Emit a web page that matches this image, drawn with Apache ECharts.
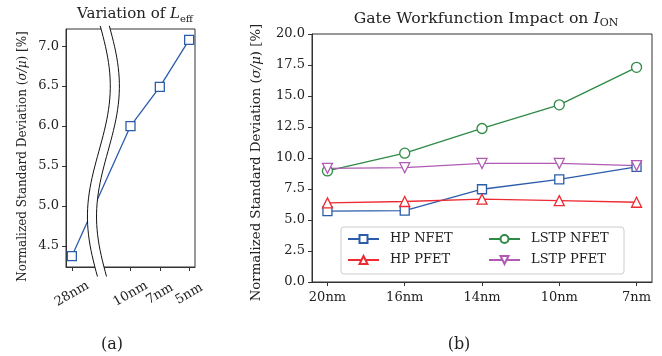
<!DOCTYPE html>
<html>
<head>
<meta charset="utf-8">
<script src="https://cdn.jsdelivr.net/npm/echarts@6/dist/echarts.min.js"></script>
<style>
  html, body { margin: 0; padding: 0; background: #fff; }
  #chart { width: 662px; height: 356px; }
</style>
</head>
<body>
<div id="chart"></div>
<script>
// (a) variation of Leff
var leffNodes = ['28nm', '10nm', '7nm', '5nm'];
var leffPos = [0, 2, 3, 4];            // slot 1 is left empty for the axis break
var leffValues = [4.37, 6.0, 6.49, 7.08];
var leffTicks = [4.5, 5.0, 5.5, 6.0, 6.5, 7.0];

// (b) gate workfunction impact on ION
var nodes = ['20nm', '16nm', '14nm', '10nm', '7nm'];
var hpNfet = [5.72, 5.75, 7.48, 8.27, 9.29];
var hpPfet = [6.38, 6.49, 6.68, 6.56, 6.43];
var lstpNfet = [8.96, 10.39, 12.38, 14.29, 17.31];
var lstpPfet = [9.17, 9.22, 9.56, 9.56, 9.39];

var FONT = 'DejaVu Serif';
var INK = '#222';
var SPINE = '#333';

// break marks, in data units of panel (a)
var brk = { top: 7.255, bottom: 4.115, mid: 0.921, amp: 0.39, peak: 6.50, half: 1.633, width: 0.31 };

function renderBreak(params, api) {
    var n = 48, left = [], right = [];
    for (var k = 0; k <= n; k++) {
        var yv = brk.top + (brk.bottom - brk.top) * k / n;
        var xv = brk.mid + brk.amp * Math.cos(Math.PI * (brk.peak - yv) / brk.half);
        left.push(api.coord([xv, yv]));
        right.push(api.coord([xv + brk.width, yv]));
    }
    return {
        type: 'group',
        children: [
            { type: 'polygon', shape: { points: left.concat(right.slice().reverse()) }, style: { fill: '#fff' } },
            { type: 'polyline', shape: { points: left }, style: { stroke: '#111', lineWidth: 1, fill: null } },
            { type: 'polyline', shape: { points: right }, style: { stroke: '#111', lineWidth: 1, fill: null } }
        ]
    };
}

function pairs(arr) {
    return arr.map(function (v, i) { return [i, v]; });
}

function lineSeries(name, values, color, symbol, size, rotate) {
    return {
        name: name,
        type: 'line',
        xAxisIndex: 1,
        yAxisIndex: 1,
        data: pairs(values),
        symbol: symbol,
        symbolSize: size,
        symbolRotate: rotate || 0,
        showAllSymbol: true,
        lineStyle: { color: color, width: 1.3 },
        itemStyle: { color: '#fff', borderColor: color, borderWidth: 1.3 },
        emphasis: { disabled: true },
        z: 3
    };
}

function subRich(size) {
    return {
        i: { fontFamily: FONT, fontStyle: 'italic', fontSize: size, color: INK, lineHeight: 20 },
        s: { fontFamily: FONT, fontSize: Math.round(size * 0.68), color: INK, lineHeight: 10, verticalAlign: 'bottom' }
    };
}
var nameRich = {
    i: { fontFamily: FONT, fontStyle: 'italic' }
};

var myChart = echarts.init(document.getElementById('chart'), null, { renderer: 'canvas' });

option = {
    animation: false,
    backgroundColor: '#fff',
    title: [
        {
            text: 'Variation of {i|L}{s|eff}',
            left: 130, top: -1, textAlign: 'center',
            textStyle: { fontFamily: FONT, fontSize: 15, fontWeight: 'normal', color: INK, lineHeight: 20, rich: subRich(15) }
        },
        {
            text: 'Gate Workfunction Impact on {i|I}{s|ON}',
            left: 481, top: 4, textAlign: 'center',
            textStyle: { fontFamily: FONT, fontSize: 15.7, fontWeight: 'normal', color: INK, lineHeight: 20, rich: subRich(15.7) }
        },
        {
            text: '(a)', left: 107, top: 332, textAlign: 'center',
            textStyle: { fontFamily: FONT, fontSize: 16, fontWeight: 'normal', color: INK }
        },
        {
            text: '(b)', left: 454, top: 332, textAlign: 'center',
            textStyle: { fontFamily: FONT, fontSize: 16, fontWeight: 'normal', color: INK }
        }
    ],
    grid: [
        { left: 66, top: 29, width: 129, height: 238, show: true, borderColor: SPINE, borderWidth: 1 },
        { left: 312, top: 34, width: 340, height: 248, show: true, borderColor: SPINE, borderWidth: 1 }
    ],
    xAxis: [
        {
            gridIndex: 0, type: 'value', min: -0.2, max: 4.2,
            axisLine: { onZero: false, lineStyle: { color: SPINE } },
            axisTick: { length: 4, customValues: leffPos, lineStyle: { color: SPINE } },
            axisLabel: {
                customValues: leffPos,
                formatter: function (v) { return leffNodes[leffPos.indexOf(v)]; },
                rotate: 30, align: 'center', verticalAlign: 'middle', margin: 27,
                fontFamily: FONT, fontSize: 13, color: INK
            },
            splitLine: { show: false }
        },
        {
            gridIndex: 1, type: 'value', min: -0.2, max: 4.2,
            axisLine: { onZero: false, lineStyle: { color: SPINE } },
            axisTick: { length: 4, customValues: [0, 1, 2, 3, 4], lineStyle: { color: SPINE } },
            axisLabel: {
                customValues: [0, 1, 2, 3, 4],
                formatter: function (v) { return nodes[v]; },
                margin: 9, fontFamily: FONT, fontSize: 13, color: INK
            },
            splitLine: { show: false }
        }
    ],
    yAxis: [
        {
            gridIndex: 0, type: 'value', min: 4.2345, max: 7.2155,
            name: 'Normalized Standard Deviation ({i|σ/μ}) [%]',
            nameLocation: 'middle', nameGap: 37, nameRotate: 90,
            nameTextStyle: { fontFamily: FONT, fontSize: 12, color: INK, padding: [0, 17, 0, 0], rich: nameRich },
            axisLine: { show: true, onZero: false, lineStyle: { color: SPINE } },
            axisTick: { show: true, length: 4, customValues: leffTicks, lineStyle: { color: SPINE } },
            axisLabel: {
                customValues: leffTicks,
                formatter: function (v) { return v.toFixed(1); },
                margin: 7, fontFamily: FONT, fontSize: 13, color: INK
            },
            splitLine: { show: false }
        },
        {
            gridIndex: 1, type: 'value', min: 0, max: 20, interval: 2.5,
            name: 'Normalized Standard Deviation ({i|σ/μ}) [%]',
            nameLocation: 'middle', nameGap: 49, nameRotate: 90,
            nameTextStyle: { fontFamily: FONT, fontSize: 13.3, color: INK, padding: [0, 9, 0, 0], rich: nameRich },
            axisLine: { show: true, onZero: false, lineStyle: { color: SPINE } },
            axisTick: { show: true, length: 4, lineStyle: { color: SPINE } },
            axisLabel: {
                formatter: function (v) { return v.toFixed(1); },
                margin: 7, fontFamily: FONT, fontSize: 13, color: INK
            },
            splitLine: { show: false }
        }
    ],
    legend: {
        data: ['HP NFET', 'LSTP NFET', 'HP PFET', 'LSTP PFET'],
        left: 341, top: 227, width: 280,
        orient: 'horizontal',
        itemWidth: 31, itemHeight: 10, itemGap: 7,
        padding: [5, 2, 7, 6],
        borderColor: '#ccc', borderWidth: 1, borderRadius: 3,
        backgroundColor: 'rgba(255,255,255,0.8)',
        selectedMode: false,
        textStyle: { fontFamily: FONT, fontSize: 13, color: INK, width: 91, padding: [0, 0, 0, 6], lineHeight: 14 }
    },
    series: [
        {
            name: 'Leff',
            type: 'line',
            xAxisIndex: 0, yAxisIndex: 0,
            data: leffValues.map(function (v, i) { return [leffPos[i], v]; }),
            symbol: 'rect', symbolSize: 9,
            lineStyle: { color: '#2b5cab', width: 1.3 },
            itemStyle: { color: '#fff', borderColor: '#2b5cab', borderWidth: 1.3 },
            emphasis: { disabled: true },
            z: 3
        },
        {
            name: 'break',
            type: 'custom',
            xAxisIndex: 0, yAxisIndex: 0,
            data: [[1, 5]],
            renderItem: renderBreak,
            silent: true,
            z: 10
        },
        lineSeries('HP NFET', hpNfet, '#2b5cab', 'rect', 9),
        lineSeries('HP PFET', hpPfet, '#ee2a32', 'triangle', 10),
        lineSeries('LSTP NFET', lstpNfet, '#2e8a44', 'circle', 10),
        lineSeries('LSTP PFET', lstpPfet, '#b05ab4', 'triangle', 10, 180)
    ]
};
myChart.setOption(option);
</script>
</body>
</html>
